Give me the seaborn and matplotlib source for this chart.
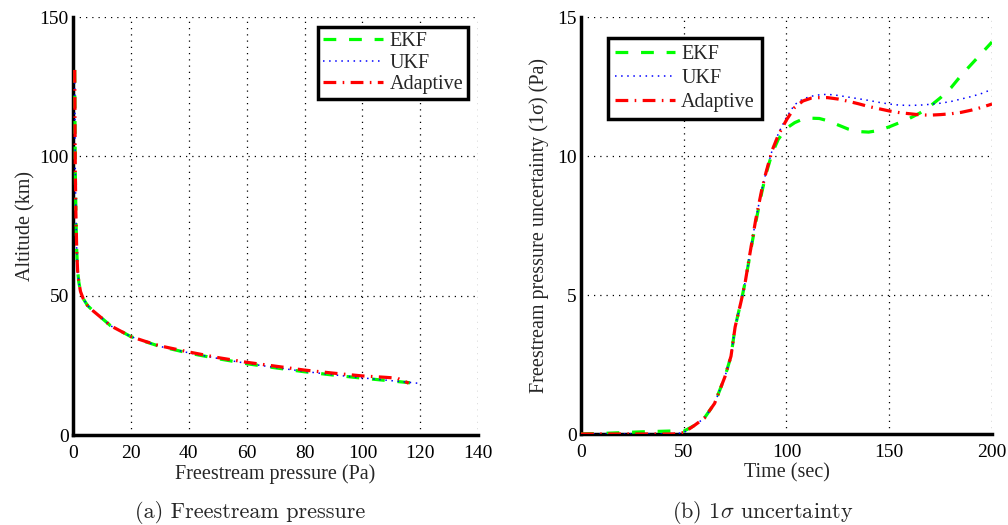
import pandas as pd
import matplotlib
matplotlib.use("Agg")
import matplotlib.pyplot as plt
import seaborn as sns

# (a) freestream pressure (Pa) vs altitude (km)
ekf_p = [0.6, 0.7, 0.8, 1.0, 1.3, 1.6, 2.0, 2.6, 3.5, 5.0, 7.0, 10.0, 13.0, 17.0, 20.0, 25.0, 30.0,
         40.0, 50.0, 60.0, 70.0, 80.0, 90.0, 100.0, 110.0, 120.0]
ekf_alt = [131.0, 112.0, 95.0, 80.0, 66.0, 59.0, 55.0, 51.5, 49.0, 46.5, 44.5, 41.9, 39.2, 37.0, 35.3,
           33.5, 31.8, 29.4, 27.4, 25.6, 24.1, 22.7, 21.5, 20.4, 19.4, 18.4]
ukf_p = ekf_p
ukf_alt = [131.0, 112.0, 95.0, 80.0, 66.0, 59.0, 55.0, 51.5, 49.0, 46.5, 44.5, 41.9, 39.2, 37.0, 35.3,
           33.5, 31.8, 29.5, 27.5, 25.7, 24.2, 22.8, 21.6, 20.5, 19.5, 18.5]
ada_p = [0.6, 0.7, 0.8, 1.0, 1.3, 1.6, 2.0, 2.6, 3.5, 5.0, 7.0, 10.0, 13.0, 17.0, 20.0, 25.0, 30.0,
         40.0, 50.0, 60.0, 70.0, 80.0, 90.0, 100.0, 108.0, 112.0, 116.0]
ada_alt = [131.0, 112.0, 95.0, 80.0, 66.0, 59.0, 55.0, 51.5, 49.0, 46.5, 44.5, 41.9, 39.2, 37.0, 35.3,
           33.6, 32.0, 29.8, 27.8, 26.1, 24.7, 23.3, 22.2, 21.2, 20.7, 20.4, 18.6]

# (b) 1-sigma uncertainty (Pa) vs time (sec)
time = [0, 10, 20, 30, 40, 45, 50, 55, 60, 65, 70, 73, 75, 78, 80, 82, 85, 88, 90, 93, 96, 100,
        104, 108, 112, 116, 120, 125, 130, 135, 140, 145, 150, 155, 160, 165, 170, 175, 180,
        185, 190, 195, 200]
ekf_s = [0.0, 0.02, 0.05, 0.08, 0.1, 0.11, 0.1, 0.3, 0.57, 1.1, 2.05, 2.8, 3.85, 4.8, 5.5, 6.35,
         7.6, 8.7, 9.35, 10.1, 10.6, 11.0, 11.2, 11.33, 11.36, 11.35, 11.27, 11.12, 10.97, 10.88,
         10.86, 10.92, 11.05, 11.2, 11.36, 11.55, 11.8, 12.1, 12.45, 12.9, 13.3, 13.7, 14.1]
ukf_s = [0.0, 0.0, 0.0, 0.0, 0.0, 0.0, 0.05, 0.3, 0.57, 1.1, 2.05, 2.8, 3.85, 4.8, 5.5, 6.4,
         7.7, 8.8, 9.4, 10.2, 10.8, 11.4, 11.85, 12.05, 12.15, 12.2, 12.22, 12.18, 12.12, 12.06,
         12.0, 11.93, 11.87, 11.83, 11.82, 11.83, 11.86, 11.9, 11.96, 12.05, 12.14, 12.25, 12.4]
ada_s = [0.0, 0.0, 0.0, 0.0, 0.0, 0.0, 0.05, 0.3, 0.57, 1.1, 2.05, 2.8, 3.85, 4.8, 5.5, 6.4,
         7.7, 8.8, 9.4, 10.2, 10.75, 11.3, 11.75, 11.98, 12.08, 12.1, 12.1, 12.05, 11.97, 11.88,
         11.78, 11.7, 11.62, 11.56, 11.52, 11.48, 11.47, 11.49, 11.52, 11.57, 11.65, 11.75, 11.87]

labels = ["EKF", "UKF", "Adaptive"]
colors = ["#00ff00", "#0000ff", "#ff0000"]
styles = [(0, (4, 4)), (0, (1, 3)), (0, (4, 2, 0.5, 2))]
widths = [2.3, 1.1, 2.3]

sns.set_style("white")
plt.rcParams["font.family"] = ["Liberation Serif", "DejaVu Serif"]
plt.rcParams["mathtext.fontset"] = "stix"

fig = plt.figure(figsize=(10.08, 5.25), dpi=100)
ax1 = fig.add_axes([0.0724, 0.1714, 0.402, 0.7962])
ax2 = fig.add_axes([0.5764, 0.1733, 0.4077, 0.7943])

left_sets = [(ekf_p, ekf_alt), (ukf_p, ukf_alt), (ada_p, ada_alt)]
for (px, py), lab, c, ls, lw in zip(left_sets, labels, colors, styles, widths):
    df = pd.DataFrame({"p": px, "alt": py})
    sns.lineplot(data=df, x="p", y="alt", ax=ax1, color=c, linestyle=ls, linewidth=lw,
                 estimator=None, sort=False, label=lab, zorder=3)

right_sets = [ekf_s, ukf_s, ada_s]
for sy, lab, c, ls, lw in zip(right_sets, labels, colors, styles, widths):
    df = pd.DataFrame({"t": time, "s": sy})
    sns.lineplot(data=df, x="t", y="s", ax=ax2, color=c, linestyle=ls, linewidth=lw,
                 estimator=None, sort=False, label=lab, zorder=3)

ax1.set_xlim(0, 140)
ax1.set_ylim(0, 150)
ax1.set_xticks(range(0, 141, 20))
ax1.set_yticks([0, 50, 100, 150])
ax1.set_xlabel("Freestream pressure (Pa)", fontsize=14.5, labelpad=2)
ax1.set_ylabel("Altitude (km)", fontsize=14.5, labelpad=3)

ax2.set_xlim(0, 200)
ax2.set_ylim(0, 15)
ax2.set_xticks([0, 50, 100, 150, 200])
ax2.set_yticks([0, 5, 10, 15])
ax2.set_xlabel("Time (sec)", fontsize=14.5, labelpad=2)
ax2.set_ylabel("Freestream pressure uncertainty (1σ) (Pa)", fontsize=14.5, labelpad=6)

for ax in (ax1, ax2):
    ax.grid(True, color="black", linestyle=(0, (1, 4)), linewidth=0.9)
    for side in ("top", "right"):
        ax.spines[side].set_visible(False)
    for side in ("left", "bottom"):
        ax.spines[side].set_linewidth(2.5)
        ax.spines[side].set_color("black")
    ax.tick_params(direction="in", length=4, width=2, labelsize=14, pad=3, colors="black")
    ax.tick_params(axis="x", pad=7)

leg1 = ax1.legend(loc="upper right", bbox_to_anchor=(0.985, 0.985), fontsize=14.5, fancybox=False,
                  framealpha=1, edgecolor="black", borderpad=0.25, labelspacing=0.1,
                  handlelength=3.0, handletextpad=0.3, borderaxespad=0.2)
leg1.get_frame().set_linewidth(2.5)
leg2 = ax2.legend(loc="upper left", bbox_to_anchor=(0.055, 0.96), fontsize=14.5, fancybox=False,
                  framealpha=1, edgecolor="black", borderpad=0.35, labelspacing=0.25,
                  handlelength=3.0, handletextpad=0.3, borderaxespad=0.2)
leg2.get_frame().set_linewidth(2.5)

fig.text(250 / 1008, 1 - 512 / 525, "(a) Freestream pressure", family="cmr10", fontsize=16,
         ha="center", va="center")
fig.text(763 / 1008, 1 - 512 / 525, r"(b) 1$\sigma$ uncertainty", family="cmr10", fontsize=16,
         ha="center", va="center", math_fontfamily="cm")

fig.savefig("out.png", dpi=100)
